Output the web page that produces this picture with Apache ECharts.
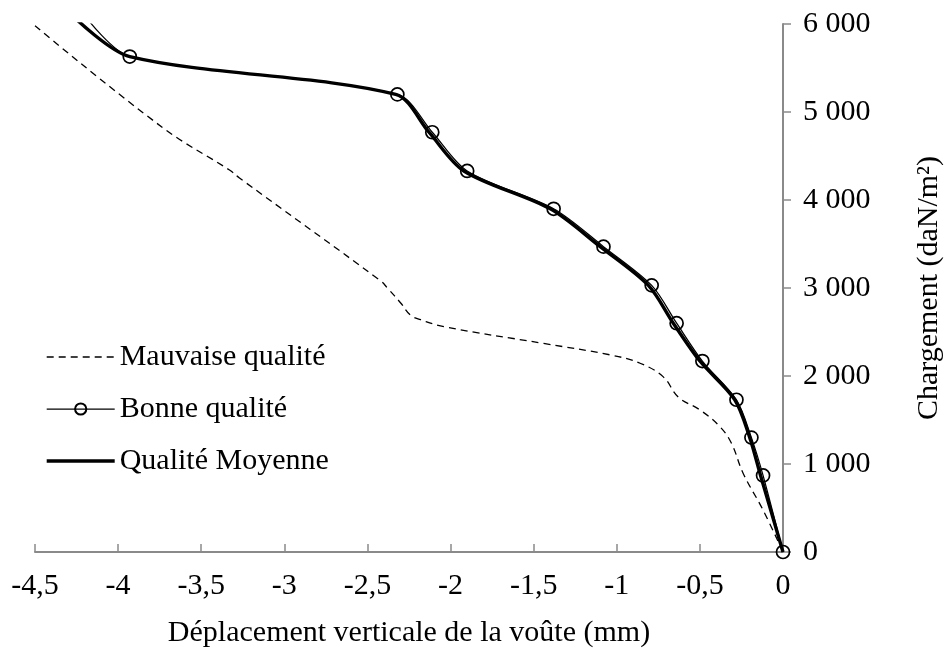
<!DOCTYPE html>
<html>
<head>
<meta charset="utf-8">
<script src="https://cdn.jsdelivr.net/npm/echarts@6/dist/echarts.min.js"></script>
<style>
  html, body { margin: 0; padding: 0; background: #ffffff; }
  #chart { width: 952px; height: 653px; }
</style>
</head>
<body>
<div id="chart"></div>
<script>
// Vertical displacement of the vault (mm) against applied load (daN/m²)
const seriesNames = ['Mauvaise qualité', 'Bonne qualité', 'Qualité Moyenne'];

const mauvaiseDepl   = [-4.50, -3.73, -3.33, -3.27, -2.42, -2.38, -2.30, -2.24, -2.18, -2.04, -1.44, -1.04, -0.86, -0.72, -0.63, -0.50, -0.38, -0.31, -0.24, -0.12, 0];
const mauvaiseCharge = [5980, 4820, 4340, 4250, 3080, 3000, 2830, 2690, 2640, 2560, 2370, 2240, 2145, 1990, 1760, 1615, 1425, 1235, 895, 477, 0];

const bonneDepl   = [-4.19, -3.93, -2.32, -2.11, -1.90, -1.38, -1.08, -0.79, -0.64, -0.485, -0.28, -0.19, -0.12, 0];
const bonneCharge = [6070, 5630, 5200, 4770, 4330, 3900, 3470, 3030, 2600, 2170, 1730, 1300, 870, 0];

const moyenneDepl   = [-4.26, -3.93, -2.33, -2.13, -1.92, -1.40, -1.10, -0.81, -0.66, -0.50, -0.29, -0.20, -0.135, 0];
const moyenneCharge = [6070, 5630, 5200, 4770, 4330, 3900, 3470, 3030, 2600, 2170, 1730, 1300, 870, 0];

const xTitle = 'Déplacement verticale de la voûte (mm)';
const yTitle = 'Chargement (daN/m²)';

const FONT = "'Liberation Serif', 'DejaVu Serif', serif";
const FONT_SIZE = 30;
const AXIS_GREY = '#8a8a8a';

function pairs(xs, ys) { return xs.map((x, i) => [x, ys[i]]); }

const chart = echarts.init(document.getElementById('chart'), null, { renderer: 'canvas' });

chart.setOption({
  animation: false,
  backgroundColor: '#ffffff',
  textStyle: { fontFamily: FONT, color: '#000' },
  grid: { left: 35, right: 165, top: 24, bottom: 101, containLabel: false },
  legend: {
    data: seriesNames,
    orient: 'vertical',
    left: 40,
    top: 337,
    itemWidth: 68,
    itemHeight: 14,
    itemGap: 22,
    selectedMode: false,
    lineStyle: { width: 'inherit', type: 'inherit' },
    textStyle: { fontFamily: FONT, fontSize: FONT_SIZE, color: '#000', lineHeight: 30 }
  },
  xAxis: {
    type: 'value',
    min: -4.5,
    max: 0,
    interval: 0.5,
    name: xTitle,
    nameLocation: 'middle',
    nameGap: 66,
    nameTextStyle: { fontFamily: FONT, fontSize: FONT_SIZE, color: '#000' },
    axisLine: { show: true, onZero: false, lineStyle: { color: AXIS_GREY, width: 2 } },
    axisTick: { show: true, inside: true, length: 8, lineStyle: { color: AXIS_GREY, width: 1.5 } },
    axisLabel: {
      margin: 19,
      fontFamily: FONT, fontSize: FONT_SIZE, color: '#000',
      formatter: v => String(v).replace('.', ',')
    },
    splitLine: { show: false }
  },
  yAxis: {
    type: 'value',
    position: 'right',
    min: 0,
    max: 6000,
    interval: 1000,
    name: yTitle,
    nameLocation: 'middle',
    nameRotate: 90,
    nameGap: 131,
    nameTextStyle: { fontFamily: FONT, fontSize: FONT_SIZE, color: '#000' },
    axisLine: { show: true, lineStyle: { color: AXIS_GREY, width: 2 } },
    axisTick: { show: true, inside: false, length: 8, lineStyle: { color: AXIS_GREY, width: 1.5 } },
    axisLabel: {
      margin: 20,
      fontFamily: FONT, fontSize: FONT_SIZE, color: '#000',
      formatter: v => {
        const s = String(v);
        return s.length > 3 ? s.slice(0, s.length - 3) + '\u00a0' + s.slice(-3) : s;
      }
    },
    splitLine: { show: false }
  },
  series: [
    {
      name: seriesNames[0],
      type: 'line',
      data: pairs(mauvaiseDepl, mauvaiseCharge),
      smooth: 0.4,
      symbol: 'none',
      itemStyle: { color: 'rgba(0,0,0,0)', borderColor: 'rgba(0,0,0,0)', borderWidth: 0 },
      lineStyle: { color: '#000', width: 1.3, type: [7, 5] },
      z: 2
    },
    {
      name: seriesNames[2],
      type: 'line',
      data: pairs(moyenneDepl, moyenneCharge),
      smooth: 0.3,
      symbol: 'none',
      itemStyle: { color: 'rgba(0,0,0,0)', borderColor: 'rgba(0,0,0,0)', borderWidth: 0 },
      lineStyle: { color: '#000', width: 3.4 },
      z: 3
    },
    {
      name: seriesNames[1],
      type: 'line',
      data: pairs(bonneDepl, bonneCharge),
      smooth: 0.3,
      symbol: 'circle',
      symbolSize: 13,
      showAllSymbol: true,
      itemStyle: { color: 'rgba(0,0,0,0)', borderColor: '#000', borderWidth: 1.7 },
      lineStyle: { color: '#000', width: 1.25 },
      z: 4
    }
  ]
});
</script>
</body>
</html>
